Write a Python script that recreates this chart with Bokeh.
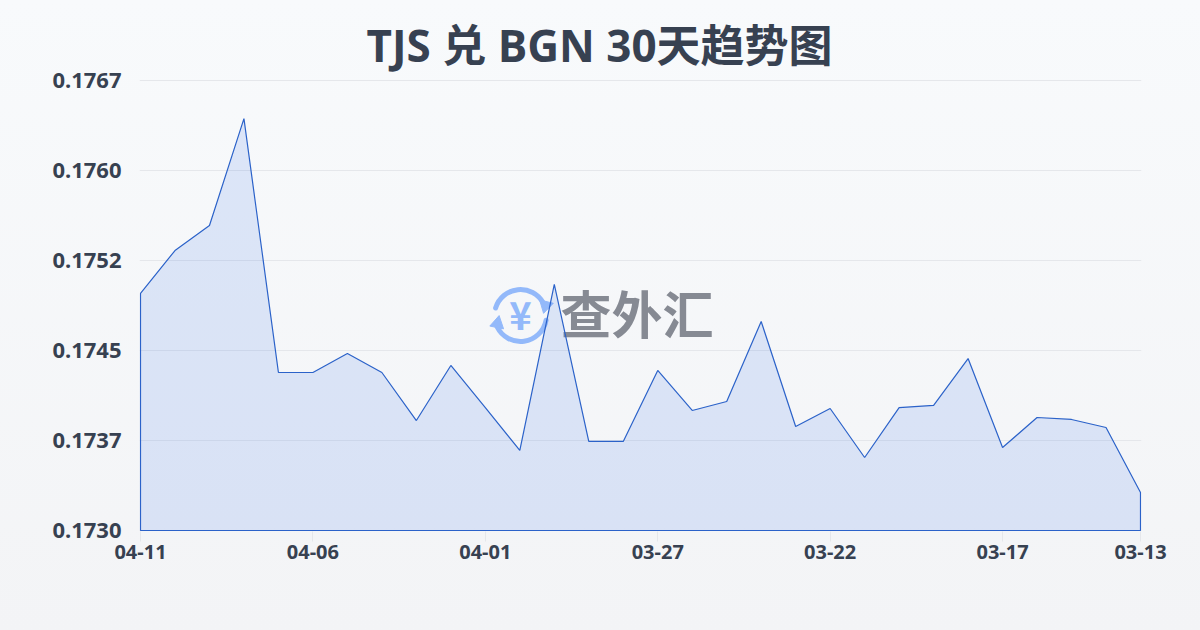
from bokeh.plotting import figure
from bokeh.models import FixedTicker, Label, Range1d
from bokeh.embed import file_html
from bokeh.resources import INLINE
from bokeh.core.properties import value

title_text = "TJS 兑 BGN 30天趋势图"
x_labels = ["04-11", "04-06", "04-01", "03-27", "03-22", "03-17", "03-13"]
x_label_pos = [0, 5, 10, 15, 20, 25, 29]
y_ticks = [0.1730, 0.17374, 0.17448, 0.17522, 0.17596, 0.1767]
y_labels = ["0.1730", "0.1737", "0.1745", "0.1752", "0.1760", "0.1767"]
rates = [0.174949, 0.175302, 0.175508, 0.176387, 0.174299, 0.174299, 0.174455, 0.174299,
         0.173904, 0.174357, 0.174011, 0.173658, 0.175023, 0.173732, 0.173732, 0.174316,
         0.173987, 0.174061, 0.174718, 0.173855, 0.174003, 0.173600, 0.174011, 0.174028,
         0.174414, 0.173682, 0.173929, 0.173913, 0.173847, 0.173312]

TEXT = "#374151"
BLUE = "#2b62c9"
ICON = "#93b9fa"
FONT = "Noto Sans CJK SC"

n = len(rates)
idx = list(range(n))
base = y_ticks[0]
px_x = (n - 1) / 1000
px_y = (y_ticks[-1] - y_ticks[0]) / 450

p = figure(width=1200, height=630, output_backend="svg", toolbar_location=None,
           x_range=Range1d(-px_x, n - 1 + px_x),
           y_range=Range1d(base - px_y, y_ticks[-1] + px_y),
           background_fill_color=None, border_fill_color=None, outline_line_color=None,
           min_border_left=139, min_border_right=59, min_border_top=79, min_border_bottom=99)

p.title.text = title_text
p.title.align = "left"
p.title.offset = 227
p.title.standoff = 9
p.title.text_font = "'Open Sans','Noto Sans CJK SC'"
p.title.text_font_style = "bold"
p.title.text_font_size = "44px"
p.title.text_color = TEXT

p.xgrid.visible = False
p.ygrid.grid_line_color = "#e5e7eb"
p.ygrid.grid_line_width = 1

p.xaxis.ticker = FixedTicker(ticks=x_label_pos)
p.xaxis.major_label_overrides = dict(zip(x_label_pos, x_labels))
p.yaxis.ticker = FixedTicker(ticks=y_ticks)
p.yaxis.major_label_overrides = dict(zip(y_ticks, y_labels))
for ax in (p.xaxis[0], p.yaxis[0]):
    ax.axis_line_color = None
    ax.minor_tick_line_color = None
    ax.major_label_text_color = TEXT
    ax.major_label_text_font = "Noto Sans"
    ax.major_label_text_font_style = "bold"
p.xaxis.major_tick_line_color = "#e5e7eb"
p.xaxis.major_tick_out = 10
p.xaxis.major_tick_in = 0
p.xaxis.major_label_text_font_size = "20px"
p.xaxis.major_label_standoff = 3
p.yaxis.major_tick_line_color = None
p.yaxis.major_label_text_font_size = "22px"
p.yaxis.major_label_standoff = 12

# watermark, beneath the data
p.add_layout(Label(x=421, y=220, x_units="screen", y_units="screen", text="查外汇", level="underlay",
                   text_font=FONT, text_font_style="bold", text_font_size="51px",
                   text_color="#868a93", text_align="left", text_baseline="middle"))
icon_x = 11.02
icon_y = base + 215 * px_y
p.arc(x=[icon_x, icon_x], y=[icon_y, icon_y], radius=26, radius_units="screen",
      start_angle=[0.5, 3.6], end_angle=[2.85, 6.1], line_color=ICON, line_width=5,
      line_cap="round", level="underlay")
p.scatter(x=[icon_x + 25 * px_x, icon_x - 23 * px_x], y=[icon_y + 10 * px_y, icon_y - 8 * px_y],
          marker="triangle", size=14, angle=[2.9, -0.2], fill_color=ICON, line_color=ICON,
          level="underlay")
p.text(x=[icon_x], y=[icon_y + 2 * px_y], text=["¥"], text_font=value(FONT), text_font_style="bold",
       text_font_size="38px", text_color=ICON, text_align="center", text_baseline="middle",
       level="underlay")

# area
p.patch(idx + [n - 1, 0], rates + [base, base], fill_color="#2563eb", fill_alpha=0.13,
        line_color=BLUE, line_width=1.2)

html = file_html(p, INLINE)
html = html.replace("</head>", "<style>html{min-height:100%;background:linear-gradient(180deg,#f8fafc,#f3f4f6) no-repeat;background-size:100% 630px;}body{background:transparent !important;}</style></head>", 1)
open("out.html", "w").write(html)
